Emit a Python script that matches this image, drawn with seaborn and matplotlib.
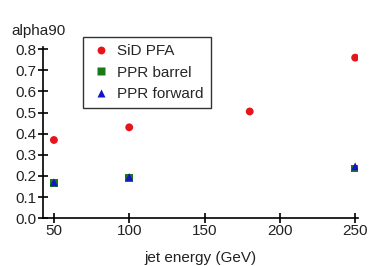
import pandas as pd
import matplotlib
matplotlib.use("Agg")
import matplotlib.pyplot as plt
import seaborn as sns

sid_energy = [50, 100, 180, 250]
sid_alpha = [0.37, 0.43, 0.505, 0.76]
barrel_energy = [50, 100, 250]
barrel_alpha = [0.165, 0.19, 0.235]
forward_energy = [50, 100, 250]
forward_alpha = [0.17, 0.195, 0.245]
series = ["SiD PFA", "PPR barrel", "PPR forward"]

df = pd.concat([
    pd.DataFrame({"energy": sid_energy, "alpha": sid_alpha, "set": series[0]}),
    pd.DataFrame({"energy": barrel_energy, "alpha": barrel_alpha, "set": series[1]}),
    pd.DataFrame({"energy": forward_energy, "alpha": forward_alpha, "set": series[2]}),
])

sns.set_style("white")
plt.rcParams['font.family'] = ['Liberation Sans', 'DejaVu Sans']

fig = plt.figure(figsize=(3.7, 2.66), dpi=100)
ax = fig.add_axes([0.116, 0.18, 0.852, 0.643])

sns.scatterplot(data=df, x="energy", y="alpha", hue="set", style="set",
                palette={"SiD PFA": "#e8141c", "PPR barrel": "#1a7a1a", "PPR forward": "#1414c8"},
                markers={"SiD PFA": "o", "PPR barrel": "s", "PPR forward": "^"},
                s=32, edgecolor="none", ax=ax)

ax.set_xlim(42.7, 252)
ax.set_ylim(0, 0.81)
ax.set_xticks([50, 100, 150, 200, 250])
ax.set_yticks([0, 0.1, 0.2, 0.3, 0.4, 0.5, 0.6, 0.7, 0.8])
ax.set_yticklabels(["0.0", "0.1", "0.2", "0.3", "0.4", "0.5", "0.6", "0.7", "0.8"])
sns.despine(ax=ax)
for s in ["left", "bottom"]:
    ax.spines[s].set_color("black")
    ax.spines[s].set_linewidth(1.2)
ax.tick_params(axis="both", bottom=True, left=True, direction="inout", length=7,
               width=1.2, labelsize=11, color="black", labelcolor="#222222", pad=1)
ax.set_xlabel("jet energy (GeV)", fontsize=11, labelpad=9, color="#222222")
ax.set_ylabel("")
fig.text(0.03, 0.87, "alpha90", fontsize=11, color="#222222")

leg = ax.legend(title=None, loc="upper left", bbox_to_anchor=(0.127, 1.059),
                borderaxespad=0, fontsize=11, frameon=True, fancybox=False,
                edgecolor="black", borderpad=0.45, labelspacing=0.5,
                handletextpad=0.4, handlelength=1.4, markerscale=1.0)
leg.get_frame().set_linewidth(1.0)

fig.savefig("out.png", dpi=100)
